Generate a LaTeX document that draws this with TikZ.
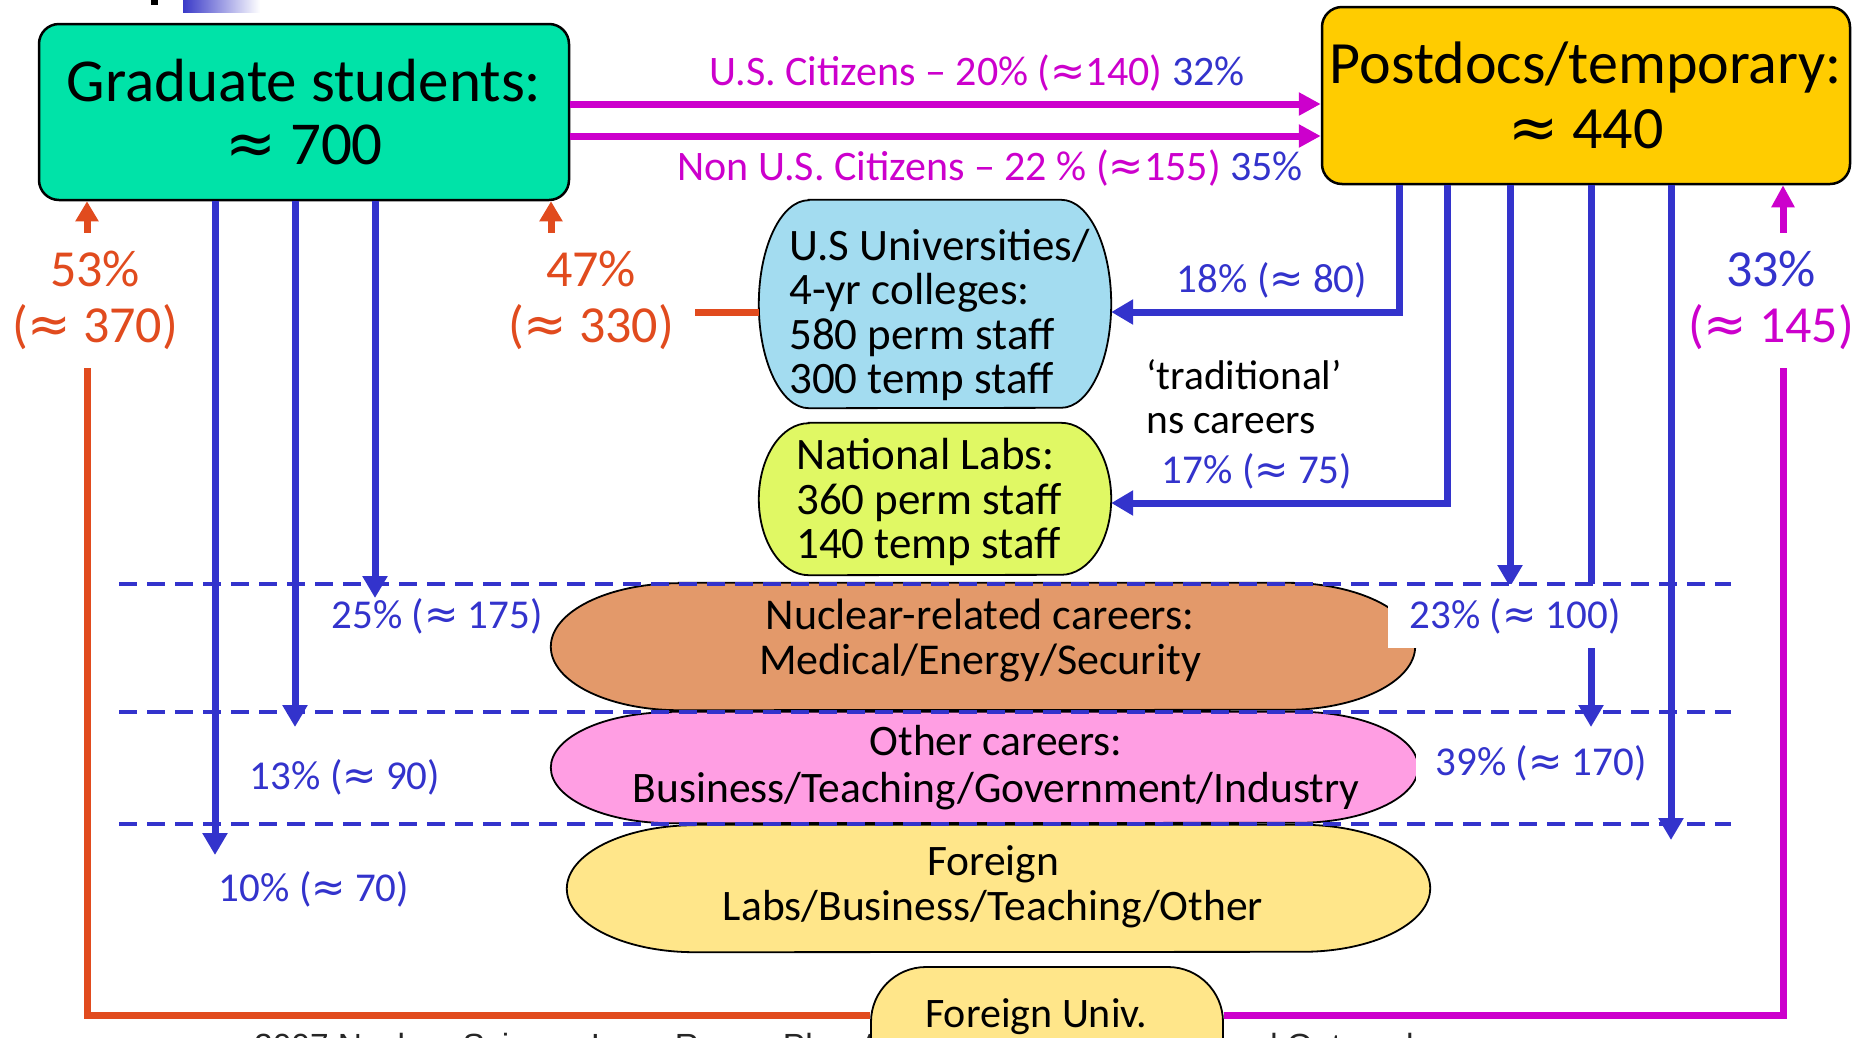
\documentclass[tikz,border=0pt]{standalone}
\usepackage{fontspec}
\setmainfont{Carlito}
\newfontfamily\dvfont{DejaVu Sans}
\newfontfamily\footfont{Liberation Sans}
\usetikzlibrary{arrows.meta}
\definecolor{myblue}{HTML}{3333CC}
\definecolor{mymag}{HTML}{CC00CC}
\definecolor{myorange}{HTML}{E14B1E}
\definecolor{gs}{HTML}{00E3A8}
\definecolor{gold}{HTML}{FFCC00}
\definecolor{univc}{HTML}{A3DCF0}
\definecolor{natlc}{HTML}{E0F864}
\definecolor{nucc}{HTML}{E3996A}
\definecolor{pinkc}{HTML}{FF9EE3}
\definecolor{fyel}{HTML}{FFE68A}
\definecolor{gradblue}{HTML}{3A3AC8}
\pgfdeclarelayer{bg}
\pgfsetlayers{bg,main}
\newcommand\apx{{\dvfont ≈}}
% capsule: name, cx, cy, w, h, rx, fill
\newcommand\capsule[7]{%
  \node[inner sep=0pt, minimum width=#4pt, minimum height=#5pt] (#1) at (#2,#3) {};
  \begin{pgfonlayer}{bg}
    \filldraw[capline, fill=#7] ([xshift=#6pt]#1.north west) -- ([xshift=-#6pt]#1.north east)
      arc[start angle=-90, end angle=90, x radius=#6, y radius=#5/2]
      -- ([xshift=#6pt]#1.south west)
      arc[start angle=90, end angle=270, x radius=#6, y radius=#5/2] -- cycle;
  \end{pgfonlayer}}
\begin{document}
\begin{tikzpicture}[x=1pt,y=-1pt,
  conn/.style={line width=7pt},
  barrow/.style={conn, draw=myblue, -{Triangle[length=22pt,width=24pt]}},
  marrow/.style={conn, draw=mymag, -{Triangle[length=22pt,width=22pt]}},
  oarrow/.style={conn, draw=myorange, -{Triangle[length=20pt,width=22pt]}},
  bigbox/.style={draw=black, line width=2.5pt, rounded corners=20pt, inner sep=0pt, align=center},
  txt/.style={inner sep=0pt, align=left, font=\fontsize{45}{44.5}\selectfont},
  ctxt/.style={inner sep=0pt, align=center},
  blbl/.style={inner sep=0pt, anchor=base, text=myblue, font=\fontsize{41}{41}\selectfont},
  mlbl/.style={inner sep=0pt, anchor=base, text=mymag, font=\fontsize{42}{42}\selectfont},
  biglbl/.style={fill=white, inner sep=0pt, align=center, minimum height=135pt, font=\fontsize{52}{56}\selectfont},
  boxlbl/.style={fill=white, inner sep=0pt, text=myblue, font=\fontsize{41}{41}\selectfont},
  sepline/.style={draw=myblue, line width=4.5pt, dash pattern=on 18pt off 10pt},
  capline/.style={draw=black, line width=1.8pt}]
\useasboundingbox (0,0) rectangle (1866,1037);
\clip (0,0) rectangle (1866,1037);

% slide decorations
\fill[black] (151,0) rectangle (158,5);
\shade[left color=gradblue, right color=white] (183,0) rectangle (260,12);

% main boxes
\node[bigbox, fill=gs, minimum width=530pt, minimum height=176pt, font=\fontsize{61}{63}\selectfont] (grad) at (304,112) {Graduate students:\\\apx\ 700};
\node[bigbox, fill=gold, minimum width=528pt, minimum height=177pt, font=\fontsize{60}{65}\selectfont] (post) at (1586,95.5) {Postdocs/temporary:\\\apx\ 440};

% capsules
\capsule{univ}{935}{304}{352}{208}{50}{univc}
\capsule{natl}{935}{499}{352}{152}{50}{natlc}
\capsule{nuc}{983}{646.5}{864}{127}{128}{nucc}
\capsule{oth}{984.5}{767.5}{867}{111}{120}{pinkc}
\capsule{forl}{998.5}{888.5}{863}{127}{128}{fyel}

\node[txt, anchor=west] (univt) at (789,315) {U.S Universities/\\4-yr colleges:\\580 perm staff\\300 temp staff};
\node[txt, anchor=west] (natlt) at (796,502) {National Labs:\\360 perm staff\\140 temp staff};
\node[ctxt, font=\fontsize{44}{45}\selectfont] (nuct) at (980,640) {Nuclear-related careers:\\Medical/Energy/Security};
\node[ctxt, font=\fontsize{43.5}{47}\selectfont] (otht) at (996,768) {Other careers:\\Business/Teaching/Government/Industry};
\node[ctxt, font=\fontsize{43.5}{45}\selectfont] (forlt) at (993,887) {Foreign\\Labs/Business/Teaching/Other};
\node[txt, anchor=west, font=\fontsize{41.5}{44}\selectfont] (trad) at (1146,397) {‘traditional’\\ns careers};

% footer (partly hidden)
\begin{pgfonlayer}{bg}
\node[anchor=base west, inner sep=0pt, text=black!85, font=\footfont\fontsize{33.5}{33.5}\selectfont] (foot) at (254,1057) {2007 Nuclear Science Long Range Plan Assessment: Education and Outreach};
\end{pgfonlayer}

% Foreign Univ
\node[draw=black, line width=1.8pt, fill=fyel, rounded corners=55pt, minimum width=352pt, minimum height=140pt] (fu) at (1047,1037) {};
\node[inner sep=0pt, anchor=base, font=\fontsize{42}{42}\selectfont] (fut) at (1036,1027) {Foreign Univ.};

% magenta arrows grad -> post
\draw[marrow] (grad.east |- 0,104) -- (post.west |- 0,104);
\draw[marrow] (grad.east |- 0,136) -- (post.west |- 0,136);
\node[mlbl] (lus) at (977,85) {U.S. Citizens – 20\% (\apx140) \textcolor{myblue}{32\%}};
\node[mlbl] (lnon) at (990,180) {Non U.S. Citizens – 22 \% (\apx155) \textcolor{myblue}{35\%}};

% blue arrows from graduate students
\coordinate (t25) at (375,598);
\coordinate (t13) at (295,727);
\coordinate (t10) at (215,855);
\draw[barrow] (grad.south -| t25) -- (t25);
\draw[barrow] (grad.south -| t13) -- (t13);
\draw[barrow] (grad.south -| t10) -- (t10);

% blue arrows from postdocs
\coordinate (t23) at (1510,587);
\coordinate (t39) at (1591,727);
\coordinate (tfo) at (1671,840);
\draw[barrow] (post.south -| 1399,0) |- (univ.east |- 0,312);
\draw[barrow] (post.south -| 1447,0) |- (natl.east |- 0,503);
\draw[barrow] (post.south -| t23) -- (t23);
\draw[barrow] (post.south -| t39) -- (t39);
\draw[barrow] (post.south -| tfo) -- (tfo);

% orange and magenta returns
\draw[oarrow] (fu.west |- 0,1015) -| (grad.south -| 87,0);
\draw[oarrow] (univ.west |- 0,312) -| (grad.south -| 551,0);
\draw[marrow] (fu.east |- 0,1015) -| (post.south -| 1783,0);

% labels
\node[biglbl, text=myorange, minimum width=170pt] (l53) at (95,300) {53\%\\(\apx\ 370)};
\node[biglbl, text=myorange, minimum width=208pt] (l47) at (591,300) {47\%\\(\apx\ 330)};
\node[biglbl, text=mymag, minimum width=170pt] (l33) at (1771,300) {\textcolor{myblue}{33\%}\\(\apx\ 145)};

\node[blbl] (l18) at (1272,292) {18\% (\apx\ 80)};
\node[blbl] (l17) at (1257,483) {17\% (\apx\ 75)};
\node[blbl] (l25) at (437,628) {25\% (\apx\ 175)};
\node[blbl] (l13) at (345,789) {13\% (\apx\ 90)};
\node[blbl] (l10) at (314,901) {10\% (\apx\ 70)};
\node[boxlbl, inner xsep=22pt, minimum height=64pt] (l23) at (1515,616) {23\% (\apx\ 100)};
\node[boxlbl, inner xsep=20pt, minimum height=60pt] (l39) at (1541,763) {39\% (\apx\ 170)};

% dashed separators
\draw[sepline] (119,584) -- (1731,584);
\draw[sepline] (119,712) -- (1731,712);
\draw[sepline] (119,824) -- (1731,824);
\end{tikzpicture}
\end{document}
